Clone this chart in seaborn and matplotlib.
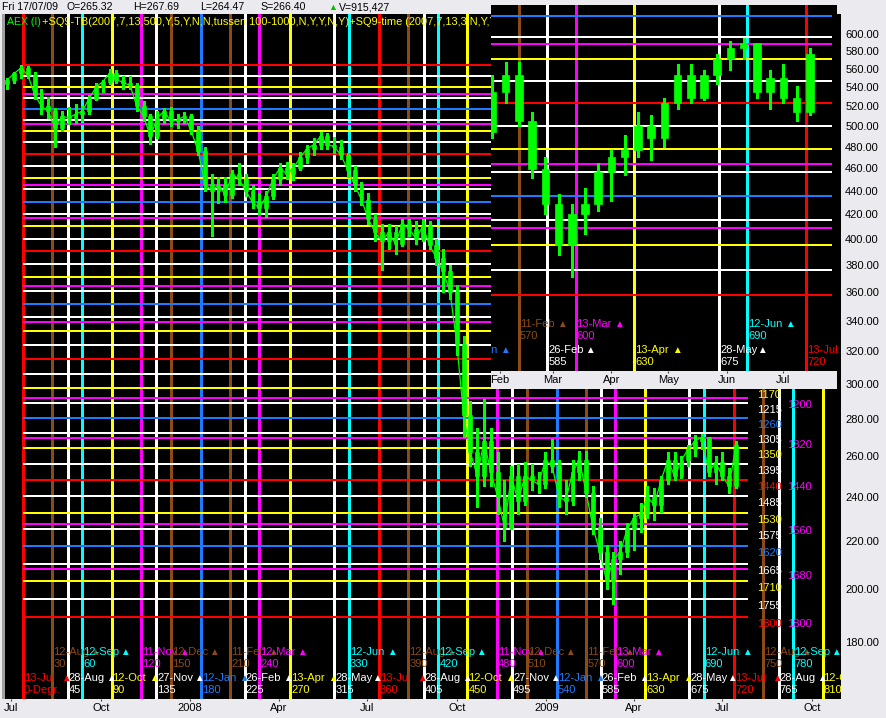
import numpy as np
import pandas as pd
import matplotlib
matplotlib.use("Agg")
import matplotlib.pyplot as plt
import matplotlib.dates as mdates
import matplotlib.ticker as mticker
from matplotlib.patches import Rectangle
import seaborn as sns

# ---------------- data (weekly AEX candles) ----------------
first_week = "2007-06-25"
week_open = [543, 548, 555, 561, 553, 532, 520, 515, 498, 510, 508, 512, 515, 528, 540, 546, 555, 548, 545, 542,
             520, 510, 490, 508, 515, 505, 506, 510, 495, 476, 446, 440, 445, 436, 455, 450, 440, 430, 425, 435,
             450, 460, 455, 460, 470, 478, 482, 490, 482, 480, 472, 458, 445, 432, 416, 405, 398, 405, 396, 412,
             408, 400, 410, 395, 385, 375, 360, 325, 282, 262, 250, 268, 252, 240, 226, 250, 238, 250, 248, 246,
             258, 255, 240, 238, 252, 258, 242, 226, 215, 203, 212, 215, 225, 230, 232, 240, 236, 248, 258, 250,
             258, 264, 268, 270, 252, 257, 250, 245]
week_high = [550, 557, 564, 563, 556, 538, 530, 518, 515, 519, 522, 520, 532, 545, 548, 560, 559, 552, 552, 545,
             525, 512, 515, 518, 519, 512, 514, 512, 500, 480, 455, 452, 452, 458, 465, 455, 445, 438, 440, 455,
             465, 466, 465, 475, 482, 488, 494, 493, 489, 486, 474, 462, 448, 438, 420, 412, 412, 410, 416, 416,
             414, 416, 414, 400, 392, 380, 365, 330, 290, 275, 291, 275, 262, 248, 255, 256, 257, 256, 252, 262,
             269, 258, 248, 258, 263, 263, 245, 230, 218, 215, 220, 228, 232, 237, 245, 244, 250, 262, 262, 260,
             266, 271, 272, 270, 260, 262, 254, 268]
week_low = [538, 545, 550, 550, 528, 512, 508, 480, 495, 502, 503, 505, 512, 526, 535, 543, 545, 538, 538, 515,
            505, 483, 488, 503, 500, 498, 503, 492, 472, 440, 402, 429, 430, 434, 445, 435, 425, 420, 418, 433,
            445, 450, 449, 458, 465, 472, 478, 478, 474, 468, 452, 440, 428, 412, 398, 376, 392, 388, 394, 402,
            396, 398, 392, 380, 360, 355, 318, 270, 255, 235, 245, 245, 232, 220, 225, 232, 236, 243, 242, 244,
            252, 235, 232, 236, 248, 240, 223, 212, 200, 194, 206, 213, 216, 224, 230, 229, 233, 246, 248, 249,
            255, 260, 264, 250, 246, 248, 242, 244]
week_close = [548, 555, 561, 553, 532, 520, 515, 498, 510, 508, 512, 515, 528, 540, 546, 555, 548, 545, 542, 520,
              510, 490, 508, 515, 505, 506, 510, 495, 476, 446, 440, 445, 436, 455, 450, 440, 430, 425, 435, 450,
              460, 455, 460, 470, 478, 482, 490, 482, 480, 472, 458, 445, 432, 416, 405, 398, 405, 396, 412, 408,
              400, 410, 395, 385, 375, 360, 325, 282, 262, 250, 268, 252, 240, 226, 250, 238, 250, 248, 246, 258,
              255, 240, 238, 252, 258, 242, 226, 215, 203, 212, 215, 225, 230, 232, 240, 236, 248, 258, 250, 258,
              264, 268, 270, 252, 257, 250, 245, 266]

# Square-of-nine price levels (degrees and prices)
level_deg = [0, 45, 90, 135, 180, 225, 270, 315, 360, 405, 450, 495, 540, 585, 630, 675, 720, 765, 810, 855,
             900, 945, 990, 1035, 1080, 1125, 1170, 1215, 1260, 1305, 1350, 1395, 1440, 1485, 1530, 1575, 1620,
             1665, 1710, 1755, 1800]
level_price = [564.06, 552.25, 540.56, 529.00, 517.56, 506.25, 495.06, 484.00, 473.06, 462.25, 451.56, 441.00,
               430.56, 420.25, 410.06, 400.00, 390.06, 380.25, 370.56, 361.00, 351.56, 342.25, 333.06, 324.00,
               315.06, 306.25, 297.56, 289.00, 280.56, 272.25, 264.06, 256.00, 248.06, 240.25, 232.56, 225.00,
               217.56, 210.25, 203.06, 196.00, 189.06]
mag_deg = [0, 120, 240, 360, 480, 600, 720, 840, 960, 1080, 1200, 1320, 1440, 1560, 1680, 1800]
mag_price = [564.06, 532.84, 502.51, 473.06, 444.51, 416.84, 390.06, 364.17, 339.17, 315.06, 291.84, 269.51,
             248.06, 227.51, 207.84, 189.06]
level_start = "2007-07-13"
level_end = "2009-07-27"

# Square-of-nine time lines
row2_dates = ["2007-07-13", "2007-08-28", "2007-10-12", "2007-11-27", "2008-01-12", "2008-02-26", "2008-04-13",
              "2008-05-28", "2008-07-13", "2008-08-28", "2008-10-12", "2008-11-27", "2009-01-12", "2009-02-26",
              "2009-04-13", "2009-05-28", "2009-07-13", "2009-08-28", "2009-10-12"]
row2_text = ["13-Jul", "28-Aug", "12-Oct", "27-Nov", "12-Jan", "26-Feb", "13-Apr", "28-May", "13-Jul", "28-Aug",
             "12-Oct", "27-Nov", "12-Jan", "26-Feb", "13-Apr", "28-May", "13-Jul", "28-Aug", "12-Oct"]
row2_num = ["0-Degr.", "45", "90", "135", "180", "225", "270", "315", "360", "405", "450", "495", "540", "585",
            "630", "675", "720", "765", "810"]
row1_dates = ["2007-08-12", "2007-09-12", "2007-11-11", "2007-12-12", "2008-02-11", "2008-03-12", "2008-06-12",
              "2008-08-12", "2008-09-12", "2008-11-11", "2008-12-12", "2009-02-11", "2009-03-13", "2009-06-12",
              "2009-08-12", "2009-09-12"]
row1_text = ["12-Aug", "12-Sep", "11-Nov", "12-Dec", "11-Feb", "12-Mar", "12-Jun", "12-Aug", "12-Sep", "11-Nov",
             "12-Dec", "11-Feb", "13-Mar", "12-Jun", "12-Aug", "12-Sep"]
row1_num = ["30", "60", "120", "150", "210", "240", "330", "390", "420", "480", "510", "570", "600", "690",
            "750", "780"]

ytick_vals = [180, 200, 220, 240, 260, 280, 300, 320, 340, 360, 380, 400, 420, 440, 460, 480, 500, 520, 540,
              560, 580, 600]
main_xticks = ["2007-07-01", "2007-10-01", "2008-01-01", "2008-04-01", "2008-07-01", "2008-10-01", "2009-01-01",
               "2009-04-01", "2009-07-01", "2009-10-01"]
main_xlabels = ["Jul", "Oct", "2008", "Apr", "Jul", "Oct", "2009", "Apr", "Jul", "Oct"]
inset_xticks = ["2009-02-01", "2009-03-01", "2009-04-01", "2009-05-01", "2009-06-01", "2009-07-01"]
inset_xlabels = ["Feb", "Mar", "Apr", "May", "Jun", "Jul"]

header_parts = [("Fri 17/07/09", 2), ("O=265.32", 67), ("H=267.69", 133), ("L=264.47", 200), ("S=266.40", 260),
                ("V=915,427", 339)]
title_green = "AEX (I)"
title_yellow = "+SQ9-TB(2007,7,13,500,Y,5,Y,N,N,tussen 100-1000,N,Y,Y,N,Y)+SQ9-time (2007,7,13,3,N,Y,Y,N,Y)"

# ---------------- style ----------------
BG = "#ebeaef"
RED, WHITE, YEL, BLUE = "#ff0000", "#ffffff", "#ffff00", "#1e7bff"
MAG, BRN, CYN, GRN = "#ff00ff", "#8c4a16", "#00ffff", "#00ff00"


def deg_color(d):
    if d % 360 == 0:
        return RED
    if d % 360 == 180:
        return BLUE
    if d % 90 == 0:
        return YEL
    return WHITE


row2_colors = [deg_color(int(n)) if n.isdigit() else RED for n in row2_num]
row1_map = {30: BRN, 60: CYN, 120: MAG, 150: BRN, 210: BRN, 240: MAG, 300: MAG, 330: CYN}
row1_colors = [row1_map[int(n) % 360] for n in row1_num]

W, H, DPI = 887, 718, 100
sns.set_style("white")
plt.rcParams["font.family"] = ["Liberation Sans", "DejaVu Sans"]
FS = 8

fig = plt.figure(figsize=(W / DPI, H / DPI), dpi=DPI, facecolor=BG)


def frect(x0, y0, x1, y1):
    return [x0 / W, 1 - y1 / H, (x1 - x0) / W, (y1 - y0) / H]


ax = fig.add_axes(frect(5, 14, 841, 699))
axi = fig.add_axes(frect(491, 5, 837, 371))
axi.set_zorder(4)

dn = lambda s: mdates.date2num(pd.Timestamp(s))
weeks = pd.date_range(first_week, periods=len(week_close), freq="7D")
xc = mdates.date2num(weeks) + 2.0
o, h, l, c = map(np.array, (week_open, week_high, week_low, week_close))


def draw_all(a, candle_w, with_line):
    a.set_facecolor("black")
    a.set_yscale("log")
    # vertical time lines
    a.vlines([dn(d) for d in row2_dates + row1_dates], 0, 1, transform=a.get_xaxis_transform(),
             colors=row2_colors + row1_colors, lw=1.0, antialiased=False, zorder=2)
    # horizontal price levels
    a.hlines(mag_price, dn(level_start), dn(level_end), colors=MAG, lw=1.44, antialiased=False, zorder=3)
    a.hlines(level_price, dn(level_start), dn(level_end), colors=[deg_color(d) for d in level_deg],
             lw=1.44, antialiased=False, zorder=3.1)
    # candles
    a.vlines(xc, l, h, colors=GRN, lw=1.0, antialiased=False, zorder=5)
    lo, hi = np.minimum(o, c), np.maximum(o, c)
    a.bar(xc, hi - lo, bottom=lo, width=candle_w, color=GRN, edgecolor=GRN, lw=0.5, zorder=5)
    if with_line:
        sns.lineplot(x=xc, y=c, ax=a, color=GRN, linewidth=0.9, zorder=5, legend=False,
                     estimator=None, sort=False)
    # time labels
    kw = dict(xycoords=a.get_xaxis_transform(), textcoords="offset pixels", annotation_clip=False,
              clip_on=True, fontsize=FS, va="center", ha="left", zorder=6)
    for dates, texts, nums, cols, (yt, yn) in [(row1_dates, row1_text, row1_num, row1_colors, (47, 35)),
                                                (row2_dates, row2_text, row2_num, row2_colors, (21, 9))]:
        for d, t, n, col in zip(dates, texts, nums, cols):
            x = dn(d)
            a.annotate(t, (x, 0), xytext=(1, yt), color=col, **kw)
            a.annotate("\u25b2", (x, 0), xytext=(38, yt), color=col, **{**kw, "fontsize": 7})
            a.annotate(n, (x, 0), xytext=(1, yn), color=col, **kw)
    # degree labels
    lk = dict(textcoords="offset pixels", annotation_clip=False, clip_on=True, fontsize=FS, va="top",
              ha="left", zorder=6)
    for d, p in zip(level_deg, level_price):
        a.annotate(str(d), (dn(level_end), p), xytext=(9, -2), color=deg_color(d), **lk)
    for d, p in zip(mag_deg, mag_price):
        a.annotate(str(d), (dn(level_end), p), xytext=(39, -2), color=MAG, **lk)
    for s in a.spines.values():
        s.set_visible(False)
    a.grid(False)
    a.set_xlabel("")
    a.set_ylabel("")


draw_all(ax, 4.0, True)
draw_all(axi, 4.0, False)

# main axes scales
ax.set_xlim(dn("2007-06-24 12:00"), dn("2009-10-31"))
ax.set_ylim(160.8, 624.2)
ax.yaxis.set_major_locator(mticker.FixedLocator(ytick_vals))
ax.yaxis.set_major_formatter(mticker.FixedFormatter([f"{v:.2f}" for v in ytick_vals]))
ax.yaxis.set_minor_locator(mticker.NullLocator())
ax.yaxis.tick_right()
ax.tick_params(axis="y", length=0, pad=3, labelsize=FS, labelcolor="black")
ax.xaxis.set_major_locator(mticker.FixedLocator([dn(d) for d in main_xticks]))
ax.xaxis.set_major_formatter(mticker.FixedFormatter(main_xlabels))
ax.xaxis.set_minor_locator(mticker.NullLocator())
ax.tick_params(axis="x", direction="out", length=1.6, width=0.8, color="#404040", pad=1.2,
               labelsize=FS, labelcolor="black", bottom=True)

# inset scales
axi.set_xlim(dn("2009-01-27 05:00"), dn("2009-07-29 10:00"))
axi.set_ylim(169.8, 285.0)
axi.yaxis.set_major_locator(mticker.NullLocator())
axi.yaxis.set_minor_locator(mticker.NullLocator())
axi.xaxis.set_major_locator(mticker.FixedLocator([dn(d) for d in inset_xticks]))
axi.xaxis.set_major_formatter(mticker.FixedFormatter(inset_xlabels))
axi.xaxis.set_minor_locator(mticker.NullLocator())
axi.tick_params(axis="x", direction="out", length=1.6, width=0.8, color="#404040", pad=1.2,
                labelsize=FS, labelcolor="black", bottom=True)

# inset x-axis band
fig.add_artist(Rectangle((491 / W, 1 - 389 / H), 346 / W, 18 / H, transform=fig.transFigure,
                         facecolor=BG, edgecolor="none", zorder=3))
# left border strip
fig.add_artist(Rectangle((2.5 / W, 1 - 699 / H), 2.5 / W, 685 / H, transform=fig.transFigure,
                         facecolor="#a0a0a0", edgecolor="none", zorder=1))

# header
for txt, px in header_parts:
    fig.text(px / W, 1 - 7 / H, txt, fontsize=7.6, color="black", va="center", ha="left", zorder=2)
fig.text(328 / W, 1 - 7 / H, "\u25b2", fontsize=6.5, color="#00c000", va="center", ha="left", zorder=2)

# indicator title inside the chart
fig.text(7 / W, 1 - 22 / H, title_green, fontsize=7.6, color=GRN, va="center", ha="left", zorder=1)
fig.text(42 / W, 1 - 22 / H, title_yellow, fontsize=7.9, color=YEL, va="center", ha="left", zorder=1)

fig.savefig("out.png", dpi=DPI, facecolor=BG)
